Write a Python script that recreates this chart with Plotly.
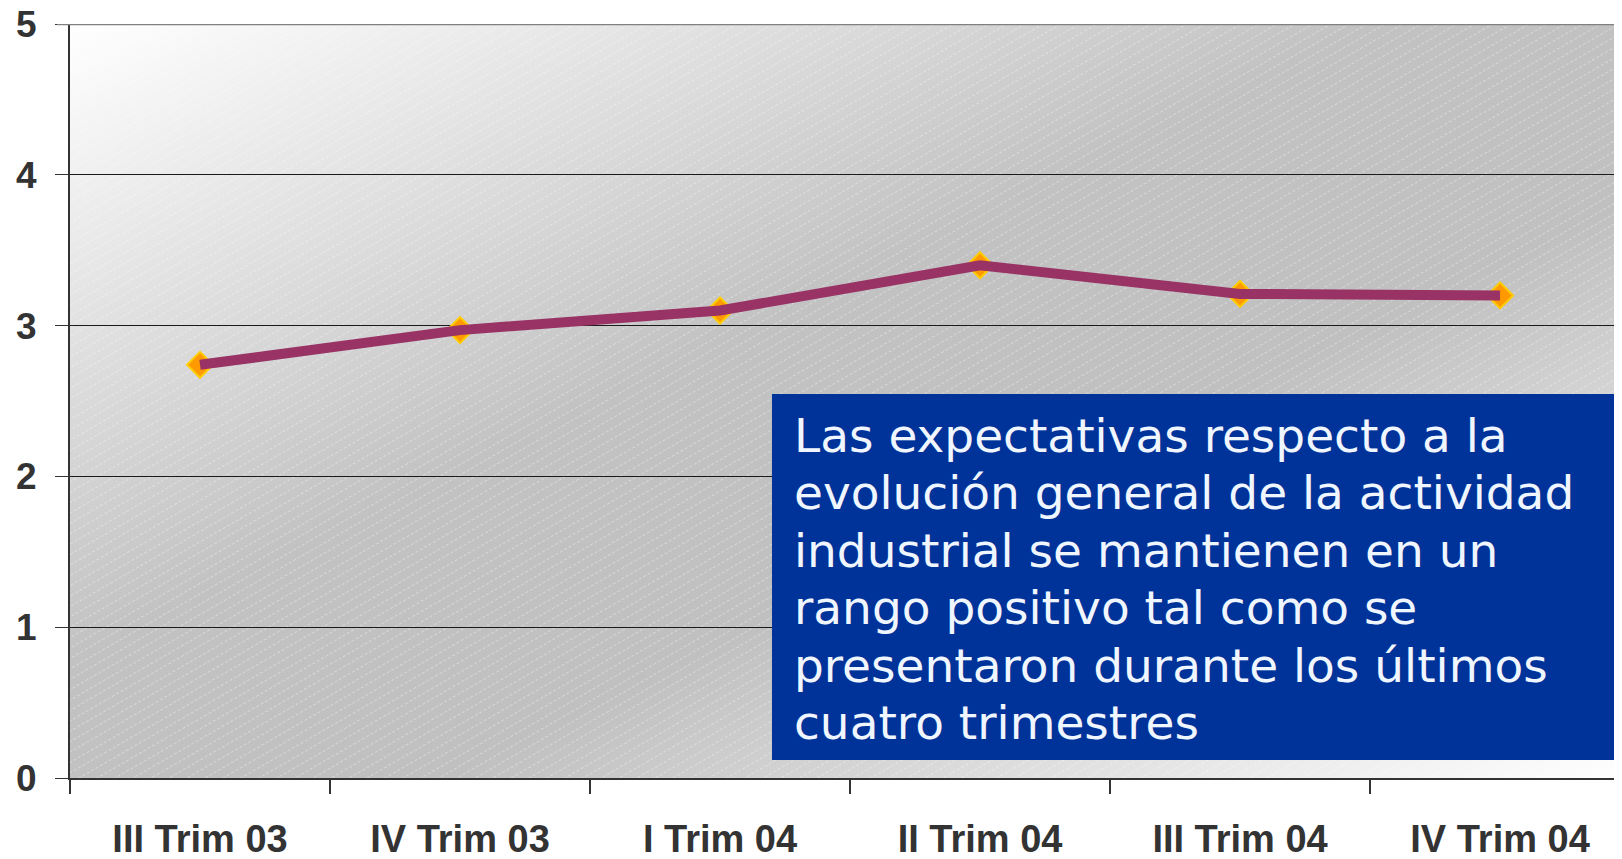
import base64

import plotly.graph_objects as go

# datos del gráfico
trimestres = ["III Trim 03", "IV Trim 03", "I Trim 04", "II Trim 04", "III Trim 04", "IV Trim 04"]
expectativas = [2.74, 2.97, 3.10, 3.40, 3.21, 3.20]
y_ticks = [0, 1, 2, 3, 4, 5]

lineas_nota = [
    "Las expectativas respecto a la",
    "evolución general de la actividad",
    "industrial se mantienen en un",
    "rango positivo tal como se",
    "presentaron durante los últimos",
    "cuatro trimestres",
]

# la página tiene 8px de margen en el body: se compensa en el tamaño
W, H = 1614, 851
ML, MT, MB = 62, 16, 81
PLOT_H = H - MT - MB  # 754

# fondo con degradado diagonal y rayado fino (como el área de trazado original)
fondo_svg = """<svg xmlns="http://www.w3.org/2000/svg" width="1552" height="754" viewBox="0 0 1552 754" preserveAspectRatio="none">
<defs>
<linearGradient id="g" x1="0" y1="0" x2="1" y2="1">
<stop offset="0" stop-color="#ffffff"/>
<stop offset="0.42" stop-color="#c2c2c2"/>
<stop offset="0.62" stop-color="#c0c0c0"/>
<stop offset="1" stop-color="#ffffff"/>
</linearGradient>
<pattern id="h" width="10" height="9" patternUnits="userSpaceOnUse" patternTransform="rotate(-30)">
<line x1="0" y1="0.5" x2="10" y2="0.5" stroke="#ffffff" stroke-opacity="0.35" stroke-width="1" stroke-dasharray="3 2"/>
</pattern>
</defs>
<rect width="1552" height="754" fill="url(#g)"/>
<rect width="1552" height="754" fill="url(#h)"/>
</svg>"""
fondo_uri = "data:image/svg+xml;base64," + base64.b64encode(fondo_svg.encode("utf-8")).decode("ascii")

fig = go.Figure()

# marcadores primero, la línea queda por encima (como en el original)
fig.add_trace(
    go.Scatter(
        x=trimestres,
        y=expectativas,
        mode="markers",
        marker=dict(symbol="diamond", size=20, color="#FF9900", line=dict(color="#FFCC00", width=2)),
        showlegend=False,
        hoverinfo="skip",
    )
)
fig.add_trace(
    go.Scatter(
        x=trimestres,
        y=expectativas,
        mode="lines",
        line=dict(color="#993366", width=10),
        showlegend=False,
    )
)

fig.update_xaxes(
    type="category",
    range=[-0.5, 5.469],
    automargin=False,
    showline=True,
    linecolor="#333333",
    linewidth=2,
    ticks="outside",
    tickson="boundaries",
    ticklen=14,
    tickcolor="#333333",
    tickwidth=1.5,
    showgrid=False,
    ticklabelstandoff=26,
    ticklabeloverflow="allow",
    tickfont=dict(family="Liberation Sans, Arial", size=38, color="#333333", weight="bold"),
)

fig.update_yaxes(
    range=[0, 5],
    tickvals=y_ticks,
    automargin=False,
    showline=True,
    linecolor="#333333",
    linewidth=2,
    ticks="outside",
    ticklen=13,
    tickcolor="#333333",
    showgrid=True,
    gridcolor="#1a1a1a",
    gridwidth=1,
    zeroline=False,
    ticklabelstandoff=11,
    ticklabeloverflow="allow",
    tickfont=dict(family="Liberation Sans, Arial", size=37, color="#333333", weight="bold"),
)

# línea superior gris en 5
fig.add_shape(
    type="line", xref="paper", yref="y", x0=-13 / 1552, x1=1, y0=5, y1=5,
    line=dict(color="#808080", width=2.5),
)

# recuadro azul con el comentario
fig.add_shape(
    type="rect", xref="paper", yref="paper", x0=0.4523, x1=0.9987, y0=0.0239, y1=0.5093,
    fillcolor="#003399", line=dict(width=0), layer="above",
)
for i, linea in enumerate(lineas_nota):
    centro = 435 + 57.5 * i  # px desde arriba de la página
    fig.add_annotation(
        xref="paper", yref="paper", x=0.4652, y=(778 - centro) / PLOT_H,
        xanchor="left", yanchor="middle", align="left",
        text=linea, showarrow=False,
        font=dict(family="DejaVu Sans", size=47, color="#F0F6FF"),
    )

fig.update_layout(
    width=W,
    height=H,
    margin=dict(l=ML, r=0, t=MT, b=MB),
    paper_bgcolor="white",
    plot_bgcolor="rgba(0,0,0,0)",
    images=[
        dict(
            source=fondo_uri, xref="paper", yref="paper", x=0, y=1,
            sizex=1, sizey=1, xanchor="left", yanchor="top",
            sizing="stretch", layer="below",
        )
    ],
)

fig.write_html("out.html")
